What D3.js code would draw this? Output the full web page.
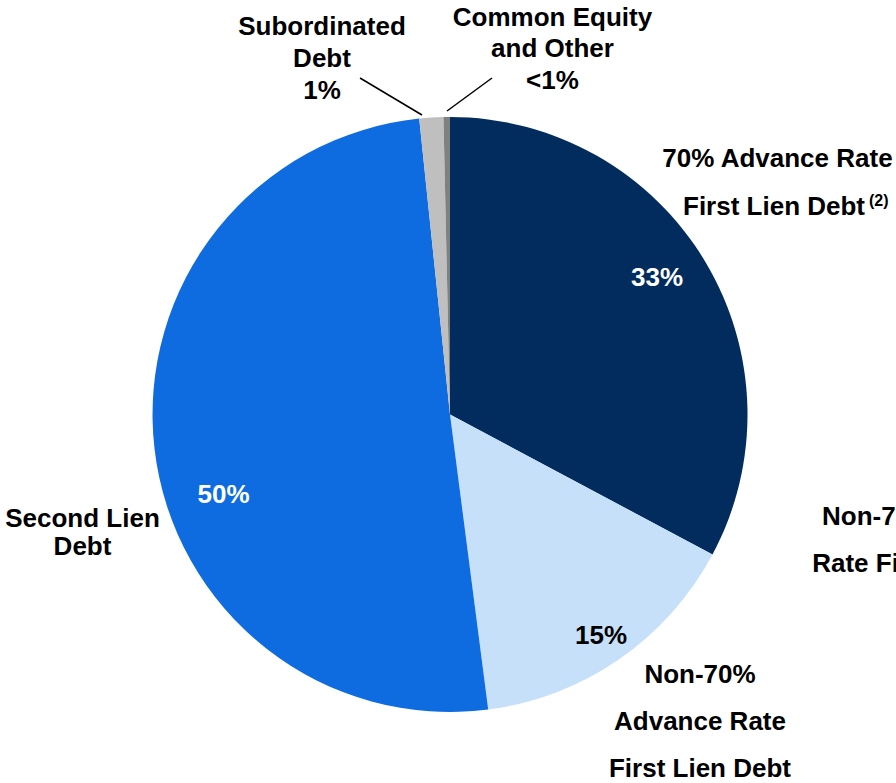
<!DOCTYPE html>
<html>
<head>
<meta charset="utf-8">
<script src="https://cdn.jsdelivr.net/npm/d3@7"></script>
<style>
  html, body { margin: 0; padding: 0; background: #fff; }
  svg { display: block; }
  text { font-family: "Liberation Sans", Arial, sans-serif; font-weight: bold; }
</style>
</head>
<body>
<div id="root"></div>
<script>
// slices, clockwise from 12 o'clock
const categories = ["70% Advance Rate First Lien Debt", "Non-70% Advance Rate First Lien Debt", "Second Lien Debt", "Subordinated Debt", "Common Equity and Other"];
const shares = [32.8, 15.15, 50.4, 1.3, 0.35];
const pctLabels = ["33%", "15%", "50%", "1%", "<1%"];
const colors = ["#022c5e", "#c6e0fa", "#0f6ce0", "#bfbfbf", "#808080"];

const width = 896;
const height = 783;
const cx = 450, cy = 414.5, radius = 297.5;

const svg = d3.select("#root").append("svg")
    .attr("width", width)
    .attr("height", height);

const pie = d3.pie().value(d => d).sort(null);
const arc = d3.arc().innerRadius(0).outerRadius(radius);

const g = svg.append("g").attr("transform", `translate(${cx},${cy})`);

g.selectAll("path")
    .data(pie(shares))
    .enter().append("path")
    .attr("d", arc)
    .attr("fill", (d, i) => colors[i]);

// percentage labels inside the slices
const inside = [
    { i: 0, x: 657, y: 286, fill: "#fff" },
    { i: 2, x: 223.5, y: 503, fill: "#fff" },
    { i: 1, x: 601, y: 644, fill: "#000" }
];
svg.selectAll(".pct")
    .data(inside)
    .enter().append("text")
    .attr("class", "pct")
    .attr("x", d => d.x)
    .attr("y", d => d.y)
    .attr("text-anchor", "middle")
    .style("font-size", "26px")
    .attr("fill", d => d.fill)
    .text(d => pctLabels[d.i]);

// outside labels, one line per entry
function block(lines, x, ys) {
    const t = svg.append("text")
        .attr("text-anchor", "middle")
        .style("font-size", "26px")
        .attr("fill", "#000");
    lines.forEach((l, k) => {
        t.append("tspan").attr("x", x).attr("y", ys[k]).text(l);
    });
    return t;
}

block(["Subordinated", "Debt", pctLabels[3]], 322, [35, 67, 99]);
block(["Common Equity", "and Other", pctLabels[4]], 552.5, [26, 57, 89]);
block(["70% Advance Rate"], 777.5, [167]);
block(["Non-70% Advance", "Rate First Lien Debt"], 935, [525, 572]);
block(["Non-70%", "Advance Rate", "First Lien Debt"], 700, [683, 730, 777]);
block(["Second Lien", "Debt"], 82.5, [527, 555]);

const fl = svg.append("text")
    .attr("x", 683)
    .attr("y", 215)
    .style("font-size", "26px")
    .attr("fill", "#000");
fl.append("tspan").text("First Lien Debt");
fl.append("tspan").attr("dx", 4).attr("dy", -9).style("font-size", "16px").text("(2)");

// leader lines for the thin slices
const leaders = [
    [[360, 78], [422, 115]],
    [[492, 78], [447, 111]]
];
svg.selectAll(".leader")
    .data(leaders)
    .enter().append("line")
    .attr("x1", d => d[0][0]).attr("y1", d => d[0][1])
    .attr("x2", d => d[1][0]).attr("y2", d => d[1][1])
    .attr("stroke", "#000")
    .attr("stroke-width", 1.5);
</script>
</body>
</html>
